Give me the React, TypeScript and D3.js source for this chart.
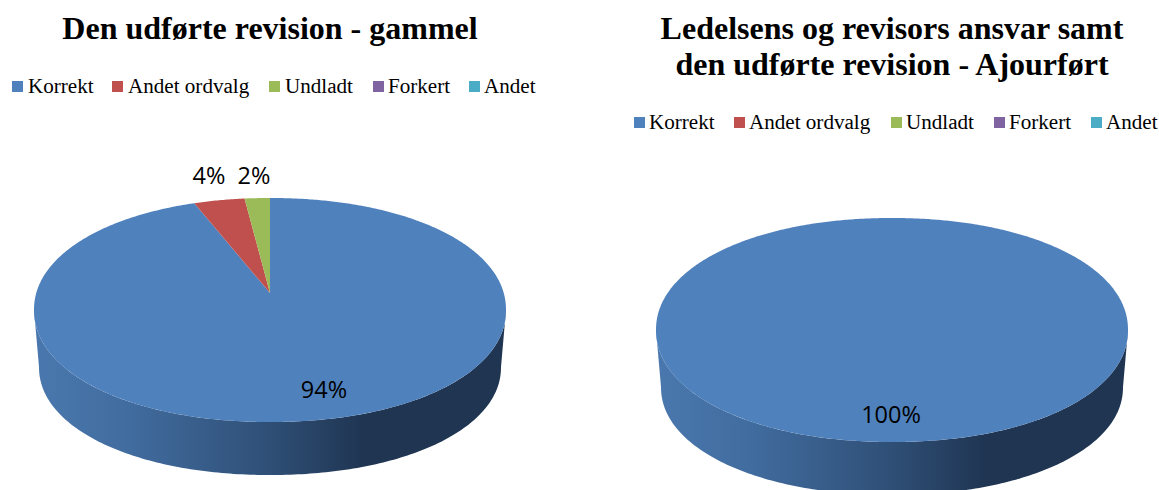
import React from "react";
import * as d3 from "d3";

const categories = ["Korrekt", "Andet ordvalg", "Undladt", "Forkert", "Andet"];
const colors = ["#4f81bd", "#c0504d", "#9bbb59", "#8064a2", "#4bacc6"];
const oldValues = [94, 4, 2, 0, 0];
const newValues = [100, 0, 0, 0, 0];
const oldTitle = ["Den udførte revision - gammel"];
const newTitle = ["Ledelsens og revisors ansvar samt", "den udførte revision - Ajourført"];

// Rim of the tilted disc, and the perspective that moves its centre (the apex) upward.
const RX = 236, RY = 112, BOTTOM_RX = 231, BOTTOM_RY = 108, DEPTH = 57;
const K = 0.152;
const APEX_UP = 17;
const ROUNDNESS = 2.08;
const PROJ_X = RX * Math.sqrt(1 - K * K);
const PROJ_Y = RY * (1 - K * K);

type Lab = { dx: number; y: number };
type Spec = {
  id: string; cx: number; cy: number; values: number[]; title: string[];
  legendSquares: number[]; legendTexts: number[]; legendY: number;
  labels: Lab[];
};

const specs: Spec[] = [
  {
    id: "old", cx: 270, cy: 310, values: oldValues, title: oldTitle,
    legendSquares: [12, 112, 269, 373, 469], legendTexts: [28, 128, 285, 388, 484], legendY: 93,
    labels: [{ dx: 54, y: 398 }, { dx: -61, y: 184 }, { dx: -16, y: 184 }],
  },
  {
    id: "new", cx: 892, cy: 330, values: newValues, title: newTitle,
    legendSquares: [634, 734, 891, 994, 1091], legendTexts: [649, 749, 906, 1009, 1106], legendY: 129,
    labels: [{ dx: -1, y: 423 }],
  },
];

// Push a point of the unit circle out onto the slightly fuller rim curve.
function fuller(x: number, y: number): [number, number] {
  const f = Math.pow(Math.pow(Math.abs(x), ROUNDNESS) + Math.pow(Math.abs(y), ROUNDNESS), -1 / ROUNDNESS);
  return [x * f, y * f];
}

function rimPoint(cx: number, cy: number, rx: number, ry: number, a: number): [number, number] {
  const [x, y] = fuller(Math.cos(a), Math.sin(a));
  return [cx + rx * x, cy + ry * y];
}

function project(cx: number, cy: number, theta: number): [number, number] {
  const u = Math.sin(theta);
  const v = -Math.cos(theta);
  const w = 1 - K * v;
  const px = (PROJ_X * u) / w;
  const py = -APEX_UP + (PROJ_Y * v) / w;
  const [x, y] = fuller(px / RX, py / RY);
  return [cx + RX * x, cy + RY * y];
}

function Pie({ s }: { s: Spec }) {
  const pie = d3.pie<number>().sort(null).value((d) => d);
  const arcs = pie(s.values);
  const line = d3.line<[number, number]>();
  const angles = d3.range(0, 181).map((d) => (d * Math.PI) / 180);
  const top = angles.map((a) => rimPoint(s.cx, s.cy, RX, RY, a));
  const bottom = angles.map((a) => rimPoint(s.cx, s.cy + DEPTH, BOTTOM_RX, BOTTOM_RY, a)).reverse();
  const side = line([...top, ...bottom]) ?? "";
  const gid = `side-${s.id}`;
  const total = d3.sum(s.values);
  const slicePath = (a: d3.PieArcDatum<number>) => {
    const n = Math.max(2, Math.ceil((a.endAngle - a.startAngle) / 0.01));
    const rim = d3.range(n + 1).map((i) => project(s.cx, s.cy, a.startAngle + ((a.endAngle - a.startAngle) * i) / n));
    return line([[s.cx, s.cy - APEX_UP], ...rim]) + "Z";
  };
  return (
    <g>
      <defs>
        <linearGradient id={gid} gradientUnits="userSpaceOnUse" x1={s.cx - RX} x2={s.cx + RX} y1={0} y2={0}>
          <stop offset="0" stopColor="#4a78ae" />
          <stop offset="0.2" stopColor="#416c9f" />
          <stop offset="0.5" stopColor="#2f4f76" />
          <stop offset="0.7" stopColor="#1f3552" />
          <stop offset="1" stopColor="#1f3552" />
        </linearGradient>
      </defs>
      {s.title.map((t, i) => (
        <text key={t} x={s.cx} y={39 + i * 36} textAnchor="middle" fontFamily="Liberation Serif" fontWeight="bold" fontSize={32} fill="#000">
          {t}
        </text>
      ))}
      {categories.map((c, i) => (
        <g key={c}>
          <rect x={s.legendSquares[i]} y={s.legendY - 12} width={11} height={11} fill={colors[i]} />
          <text x={s.legendTexts[i]} y={s.legendY} fontFamily="Liberation Serif" fontSize={21.1} fill="#000">{c}</text>
        </g>
      ))}
      <path d={side} fill={`url(#${gid})`} />
      {arcs.filter((a) => a.value > 0).map((a) => (
        <path key={a.index} d={slicePath(a)} fill={colors[a.index]} />
      ))}
      {s.labels.map((l, i) => (
        <text key={i} x={s.cx + l.dx} y={l.y} textAnchor="middle" fontFamily="Open Sans" fontSize={23.5} fill="#000">
          {d3.format(".0%")(s.values[i] / total)}
        </text>
      ))}
    </g>
  );
}

export default function App() {
  return (
    <svg width={1159} height={490} style={{ position: "absolute", left: 0, top: 0, background: "#fff" }}>
      {specs.map((s) => <Pie key={s.id} s={s} />)}
    </svg>
  );
}
